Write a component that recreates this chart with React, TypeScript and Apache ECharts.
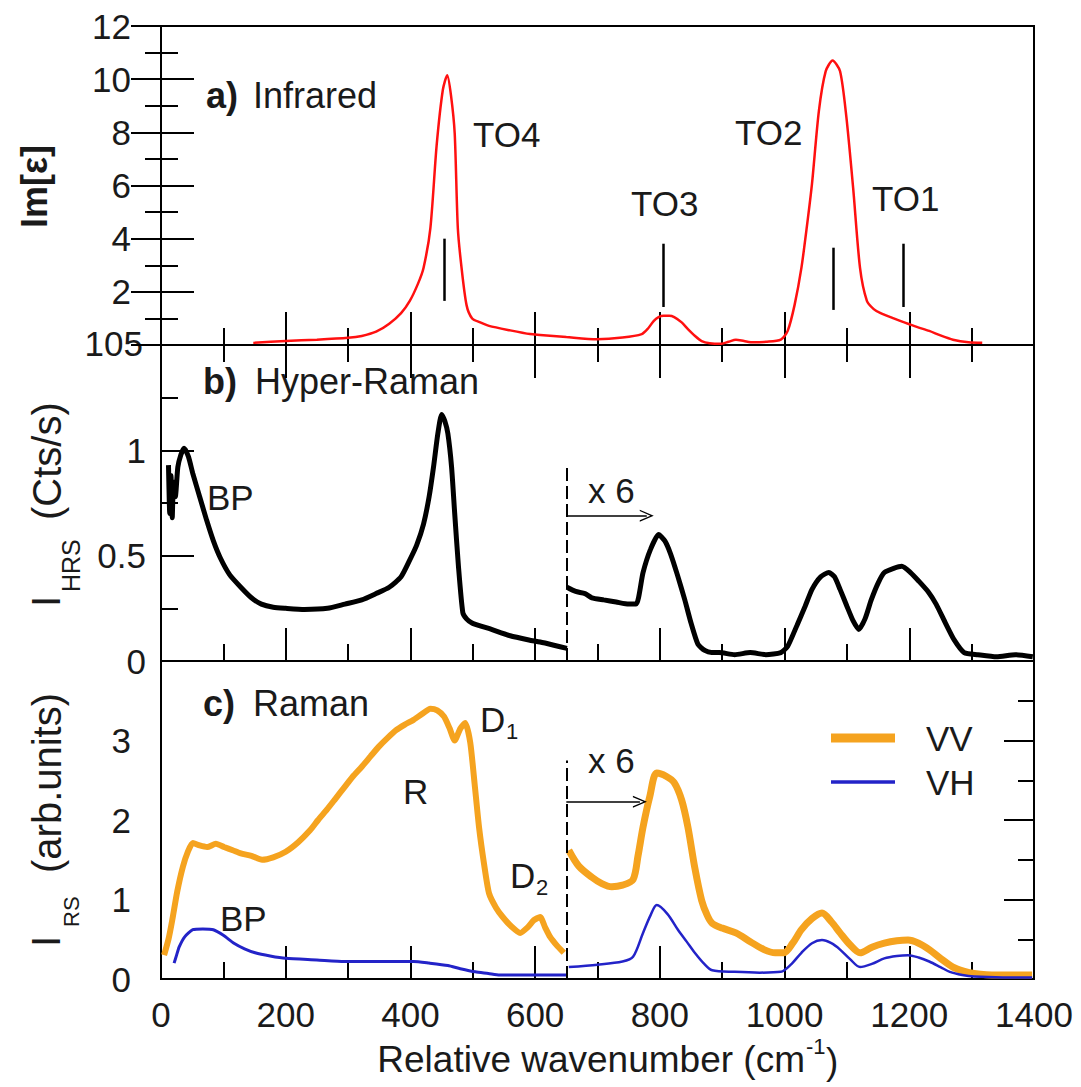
import React, { useEffect, useRef } from 'react';
import * as echarts from 'echarts';

const FONT = '"Liberation Sans", Arial, Helvetica, sans-serif';
const TXT = '#1a1a1a';

// shared x axis (relative wavenumber, cm-1)
const X_MIN = 0;
const X_MAX = 1400;
const X_STEP = 200;

// a) Infrared Im[eps]
const irWn = [148, 200, 250, 300, 322, 345, 366, 385, 399, 412, 421, 432, 442, 452, 459, 465, 471, 476, 482, 490, 499, 512, 526, 560, 592, 608, 650, 699, 740, 771, 781, 790, 798, 806, 815, 823, 835, 845, 856, 867, 880, 899, 910, 922, 935, 950, 970, 994, 1005, 1016, 1027, 1036, 1044, 1055, 1066, 1077, 1089, 1099, 1110, 1121, 1132, 1143, 1154, 1175, 1193, 1212, 1232, 1250, 1270, 1295, 1317];
const irVal = [0.08, 0.15, 0.2, 0.27, 0.34, 0.5, 0.8, 1.2, 1.66, 2.3, 2.9, 4.4, 7.5, 9.6, 10.15, 9.4, 7.96, 4.4, 2.9, 1.5, 1.0, 0.85, 0.72, 0.55, 0.41, 0.38, 0.3, 0.22, 0.28, 0.41, 0.62, 0.9, 1.05, 1.1, 1.1, 1.05, 0.85, 0.6, 0.35, 0.15, 0.07, 0.05, 0.12, 0.2, 0.15, 0.1, 0.12, 0.2, 0.53, 1.5, 2.9, 4.5, 6.07, 8.8, 10.3, 10.7, 10.3, 8.6, 5.9, 2.9, 1.66, 1.35, 1.2, 1.0, 0.84, 0.68, 0.53, 0.36, 0.2, 0.1, 0.08];

// TO mode markers
const toNames = ['TO4', 'TO3', 'TO2', 'TO1'];
const toWn = [455, 806, 1078, 1191];
const toLow = [1.66, 1.43, 1.32, 1.43];
const toHigh = [4.0, 3.81, 3.66, 3.81];

// b) Hyper-Raman, below 650 cm-1
const hrsWn = [12, 14, 16, 18, 20, 23, 27, 32, 37, 44, 51, 62, 73, 84, 95, 110, 128, 145, 161, 180, 200, 230, 267, 295, 322, 345, 366, 385, 399, 410, 421, 430, 437, 444, 450, 455, 460, 466, 471, 477, 484, 490, 499, 530, 560, 590, 608, 630, 651];
const hrsVal = [0.93, 0.7, 0.88, 0.68, 0.85, 0.78, 0.92, 0.98, 1.01, 0.97, 0.89, 0.78, 0.67, 0.57, 0.49, 0.41, 0.35, 0.3, 0.27, 0.255, 0.25, 0.245, 0.25, 0.27, 0.29, 0.32, 0.35, 0.4, 0.48, 0.55, 0.65, 0.78, 0.92, 1.08, 1.17, 1.14, 1.08, 0.92, 0.7, 0.45, 0.23, 0.2, 0.18, 0.15, 0.12, 0.1, 0.09, 0.075, 0.06];
// b) Hyper-Raman, x 6 above 650 cm-1
const hrs6Wn = [651, 665, 680, 691, 710, 730, 750, 762, 773, 785, 798, 808, 817, 828, 840, 850, 861, 872, 883, 895, 920, 945, 970, 994, 1005, 1020, 1033, 1044, 1058, 1071, 1080, 1089, 1100, 1110, 1119, 1129, 1139, 1150, 1160, 1175, 1188, 1202, 1215, 1230, 1243, 1258, 1272, 1288, 1310, 1340, 1370, 1398];
const hrs6Val = [0.35, 0.33, 0.32, 0.3, 0.29, 0.28, 0.27, 0.27, 0.42, 0.53, 0.6, 0.57, 0.51, 0.41, 0.29, 0.18, 0.08, 0.05, 0.04, 0.04, 0.03, 0.04, 0.03, 0.04, 0.07, 0.17, 0.26, 0.34, 0.4, 0.42, 0.4, 0.34, 0.26, 0.19, 0.15, 0.2, 0.29, 0.37, 0.42, 0.44, 0.45, 0.42, 0.38, 0.33, 0.27, 0.18, 0.1, 0.04, 0.03, 0.02, 0.03, 0.02];

// c) Raman VV
const vvWn = [5, 12, 18, 26, 35, 43, 51, 62, 74, 88, 101, 115, 128, 145, 162, 180, 200, 220, 239, 252, 266, 280, 294, 308, 322, 336, 349, 363, 377, 391, 405, 418, 432, 443, 454, 463, 471, 480, 488, 496, 503, 510, 518, 526, 537, 548, 562, 576, 588, 598, 608, 616, 624, 635, 646];
const vvVal = [0.3, 0.5, 0.74, 1.1, 1.41, 1.6, 1.71, 1.68, 1.66, 1.7, 1.66, 1.62, 1.58, 1.55, 1.5, 1.53, 1.6, 1.72, 1.87, 2.0, 2.13, 2.27, 2.41, 2.55, 2.67, 2.8, 2.92, 3.03, 3.13, 3.2, 3.26, 3.33, 3.4, 3.38, 3.3, 3.15, 3.0, 3.15, 3.22, 2.97, 2.45, 1.91, 1.45, 1.08, 0.9, 0.78, 0.66, 0.58, 0.65, 0.74, 0.78, 0.65, 0.53, 0.42, 0.33];
const vv6Wn = [654, 670, 691, 707, 723, 740, 757, 765, 773, 784, 795, 810, 823, 835, 845, 856, 867, 876, 884, 900, 922, 945, 967, 985, 999, 1013, 1027, 1044, 1060, 1075, 1089, 1105, 1121, 1140, 1160, 1180, 1198, 1215, 1232, 1250, 1270, 1287, 1304, 1340, 1397];
const vv6Val = [1.62, 1.42, 1.28, 1.2, 1.16, 1.18, 1.25, 1.55, 1.91, 2.3, 2.59, 2.55, 2.47, 2.25, 1.91, 1.4, 0.99, 0.8, 0.7, 0.64, 0.58, 0.47, 0.37, 0.33, 0.33, 0.45, 0.62, 0.76, 0.83, 0.72, 0.58, 0.43, 0.33, 0.4, 0.45, 0.48, 0.49, 0.45, 0.37, 0.26, 0.15, 0.1, 0.07, 0.05, 0.05];

// c) Raman VH
const vhWn = [21, 25, 29, 38, 51, 67, 84, 100, 117, 134, 151, 175, 200, 250, 294, 350, 405, 430, 460, 480, 504, 525, 543, 600, 650];
const vhVal = [0.2, 0.3, 0.4, 0.53, 0.62, 0.63, 0.62, 0.55, 0.45, 0.38, 0.33, 0.29, 0.26, 0.24, 0.22, 0.22, 0.22, 0.2, 0.17, 0.13, 0.09, 0.07, 0.05, 0.05, 0.05];
const vh6Wn = [654, 700, 740, 757, 773, 785, 795, 812, 829, 843, 856, 870, 884, 920, 960, 994, 1010, 1027, 1044, 1060, 1075, 1089, 1105, 1121, 1140, 1160, 1180, 1198, 1215, 1232, 1250, 1265, 1285, 1304, 1350, 1397];
const vh6Val = [0.15, 0.18, 0.22, 0.28, 0.58, 0.8, 0.93, 0.82, 0.62, 0.47, 0.33, 0.2, 0.11, 0.09, 0.08, 0.09, 0.18, 0.33, 0.45, 0.49, 0.45, 0.37, 0.25, 0.15, 0.19, 0.26, 0.29, 0.3, 0.27, 0.22, 0.15, 0.09, 0.05, 0.03, 0.02, 0.02];

// "x 6" scale-change markers
const splitWn = 650;
const hrsSplit = { top: 0.92, arrowY: 0.69, arrowEnd: 779 };
const rsSplit = { top: 2.75, arrowY: 2.23, arrowEnd: 768 };

const C_IR = '#ff1010';
const C_HRS = '#000000';
const C_VV = '#F5A31F';
const C_VH = '#2323C8';

const pairs = (xs: number[], ys: number[]) => xs.map((x, i) => [x, ys[i]]);

const CHEVRON = 'path://M5,0 L10,10 L8.8,10 L5,2.4 L1.2,10 L0,10 Z';

function txt(x: number, y: number, text: string, size = 35, weight: string = 'normal', align = 'left') {
  return {
    type: 'text',
    x,
    y,
    silent: true,
    style: {
      text,
      fill: TXT,
      fontSize: size,
      fontWeight: weight,
      fontFamily: FONT,
      textAlign: align,
      textVerticalAlign: 'middle',
      align,
      verticalAlign: 'middle',
    },
  };
}

function tickAxisCommon(show: boolean, major = 33, minor = 17) {
  return {
    axisLine: { show: false },
    axisTick: { show, inside: true, length: major, lineStyle: { color: '#000', width: 2 } },
    minorTick: { show, splitNumber: 2, length: minor, lineStyle: { color: '#000', width: 2 } },
    splitLine: { show: false },
    minorSplitLine: { show: false },
  };
}

export default function App() {
  const ref = useRef<HTMLDivElement>(null);

  useEffect(() => {
    if (!ref.current) return;
    const chart = echarts.init(ref.current, undefined, { renderer: 'svg' });

    const gridBase = { left: 161, right: 47, show: true, borderColor: '#000', borderWidth: 2, backgroundColor: 'transparent' };
    const xBase = { type: 'value', min: X_MIN, max: X_MAX, interval: X_STEP };

    const option: any = {
      animation: false,
      backgroundColor: '#ffffff',
      grid: [
        { ...gridBase, top: 26, height: 319 },
        { ...gridBase, top: 345, height: 316 },
        { ...gridBase, top: 661, height: 318 },
      ],
      xAxis: [
        { ...xBase, gridIndex: 0, position: 'bottom', ...tickAxisCommon(true), axisLabel: { show: false } },
        { ...xBase, gridIndex: 0, position: 'top', ...tickAxisCommon(true), axisLabel: { show: false } },
        { ...xBase, gridIndex: 1, position: 'bottom', ...tickAxisCommon(true), axisLabel: { show: false } },
        {
          ...xBase, gridIndex: 2, position: 'bottom', ...tickAxisCommon(true),
          axisLabel: { show: true, fontSize: 35, color: TXT, fontFamily: FONT, margin: 18, formatter: (v: number) => String(v) },
        },
      ],
      yAxis: [
        {
          type: 'value', gridIndex: 0, position: 'left', min: 0, max: 12, interval: 2, ...tickAxisCommon(true),
          axisLabel: { fontSize: 35, color: TXT, fontFamily: FONT, margin: 30, formatter: (v: number) => (v === 0 ? '' : String(v)) },
        },
        { type: 'value', gridIndex: 0, position: 'right', min: 0, max: 12, interval: 2, ...tickAxisCommon(true, 30, 16), axisLabel: { show: false } },
        {
          type: 'value', gridIndex: 1, position: 'left', min: 0, max: 1.5, interval: 0.5, ...tickAxisCommon(true),
          axisLabel: { fontSize: 35, color: TXT, fontFamily: FONT, margin: 15, formatter: (v: number) => (v === 1.5 ? '' : String(v)) },
        },
        { type: 'value', gridIndex: 1, position: 'right', min: 0, max: 1.5, interval: 0.5, ...tickAxisCommon(false), axisLabel: { show: false } },
        {
          type: 'value', gridIndex: 2, position: 'left', min: 0, max: 4, interval: 1, ...tickAxisCommon(false),
          axisLabel: { fontSize: 35, color: TXT, fontFamily: FONT, margin: 30, formatter: (v: number) => (v === 4 ? '' : String(v)) },
        },
        { type: 'value', gridIndex: 2, position: 'right', min: 0, max: 4, interval: 1, ...tickAxisCommon(true, 30, 16), axisLabel: { show: false } },
      ],
      series: [
        {
          name: 'Infrared', type: 'line', xAxisIndex: 0, yAxisIndex: 0, data: pairs(irWn, irVal),
          showSymbol: false, smooth: 0.25, lineStyle: { color: C_IR, width: 2.5 }, itemStyle: { color: C_IR },
          markLine: {
            silent: true, symbol: 'none', animation: false, label: { show: false },
            lineStyle: { color: '#000', width: 2.5, type: 'solid' },
            data: toWn.map((w, i) => [{ coord: [w, toLow[i]] }, { coord: [w, toHigh[i]] }]),
          },
        },
        {
          name: 'Hyper-Raman', type: 'line', xAxisIndex: 2, yAxisIndex: 2, data: pairs(hrsWn, hrsVal),
          showSymbol: false, smooth: 0.2, lineStyle: { color: C_HRS, width: 5 }, itemStyle: { color: C_HRS },
        },
        {
          name: 'Hyper-Raman x6', type: 'line', xAxisIndex: 2, yAxisIndex: 2, data: pairs(hrs6Wn, hrs6Val),
          showSymbol: false, smooth: 0.2, lineStyle: { color: C_HRS, width: 5 }, itemStyle: { color: C_HRS },
          markLine: {
            silent: true, animation: false, label: { show: false }, symbol: 'none',
            data: [
              [{ coord: [splitWn, 0], symbol: 'none', lineStyle: { color: '#000', width: 2, type: [13, 5] } }, { coord: [splitWn, hrsSplit.top], symbol: 'none' }],
              [{ coord: [splitWn, hrsSplit.arrowY], symbol: 'none', lineStyle: { color: '#000', width: 1.5, type: 'solid' } }, { coord: [hrsSplit.arrowEnd, hrsSplit.arrowY], symbol: CHEVRON, symbolSize: [12, 14] }],
            ],
          },
        },
        {
          name: 'VV', type: 'line', xAxisIndex: 3, yAxisIndex: 4, data: pairs(vvWn, vvVal),
          showSymbol: false, smooth: 0.2, lineStyle: { color: C_VV, width: 6 }, itemStyle: { color: C_VV },
        },
        {
          name: 'VV x6', type: 'line', xAxisIndex: 3, yAxisIndex: 4, data: pairs(vv6Wn, vv6Val),
          showSymbol: false, smooth: 0.3, lineStyle: { color: C_VV, width: 7 }, itemStyle: { color: C_VV },
          markLine: {
            silent: true, animation: false, label: { show: false }, symbol: 'none',
            data: [
              [{ coord: [splitWn, 0], symbol: 'none', lineStyle: { color: '#000', width: 2, type: [13, 5] } }, { coord: [splitWn, rsSplit.top], symbol: 'none' }],
              [{ coord: [splitWn, rsSplit.arrowY], symbol: 'none', lineStyle: { color: '#000', width: 1.5, type: 'solid' } }, { coord: [rsSplit.arrowEnd, rsSplit.arrowY], symbol: CHEVRON, symbolSize: [12, 14] }],
            ],
          },
        },
        {
          name: 'VH', type: 'line', xAxisIndex: 3, yAxisIndex: 4, data: pairs(vhWn, vhVal),
          showSymbol: false, smooth: 0.2, lineStyle: { color: C_VH, width: 3 }, itemStyle: { color: C_VH },
        },
        {
          name: 'VH x6', type: 'line', xAxisIndex: 3, yAxisIndex: 4, data: pairs(vh6Wn, vh6Val),
          showSymbol: false, smooth: 0.3, lineStyle: { color: C_VH, width: 2.5 }, itemStyle: { color: C_VH },
        },
      ],
      graphic: [
        // y axis titles (rotated)
        { type: 'group', x: 0, y: 228, rotation: Math.PI / 2, children: [txt(0, 34, 'Im[ε]', 36, 'bold')] },
        {
          type: 'group', x: 0, y: 607, rotation: Math.PI / 2,
          children: [txt(0, 46, 'I', 40), txt(15, 71, 'HRS', 25), txt(87, 47, '(Cts/s)', 40)],
        },
        {
          type: 'group', x: 0, y: 947, rotation: Math.PI / 2,
          children: [txt(0, 46, 'I', 40), txt(20, 71, 'RS', 22), txt(74, 47, '(arb.units)', 40)],
        },
        // x axis title
        txt(805, 1059, 'Relative wavenumber (cm', 37, 'normal', 'right'),
        txt(806, 1046, '-1', 22),
        txt(826, 1061, ')', 37),
        // overlapped bottom label of panel a
        txt(143, 343, '105', 35, 'normal', 'right'),
        // panel titles
        txt(206, 95, 'a)', 36, 'bold'),
        txt(253, 95, 'Infrared', 36),
        txt(203, 381, 'b)', 36, 'bold'),
        txt(255, 381, 'Hyper-Raman', 36),
        txt(203, 703, 'c)', 36, 'bold'),
        txt(253, 703, 'Raman', 36),
        // panel a mode labels
        txt(473, 134, toNames[0], 35),
        txt(631, 203, toNames[1], 35),
        txt(735, 132, toNames[2], 35),
        txt(872, 198, toNames[3], 35),
        // panel b annotations
        txt(207, 497, 'BP', 35),
        txt(588, 490, 'x 6', 35),
        // panel c annotations
        txt(588, 760, 'x 6', 35),
        txt(403, 791, 'R', 35),
        txt(480, 719, 'D', 35),
        txt(506, 731, '1', 22),
        txt(510, 875, 'D', 35),
        txt(536, 887, '2', 22),
        txt(220, 918, 'BP', 35),
        // legend
        { type: 'line', silent: true, shape: { x1: 831, y1: 738, x2: 895, y2: 738 }, style: { stroke: C_VV, lineWidth: 9 } },
        txt(926, 738, 'VV', 35),
        { type: 'line', silent: true, shape: { x1: 831, y1: 782, x2: 895, y2: 782 }, style: { stroke: C_VH, lineWidth: 3.5 } },
        txt(926, 782, 'VH', 35),
      ],
    };

    chart.setOption(option);
    return () => chart.dispose();
  }, []);

  return <div ref={ref} style={{ position: 'absolute', left: 0, top: 0, width: 1081, height: 1087, background: '#fff' }} />;
}
